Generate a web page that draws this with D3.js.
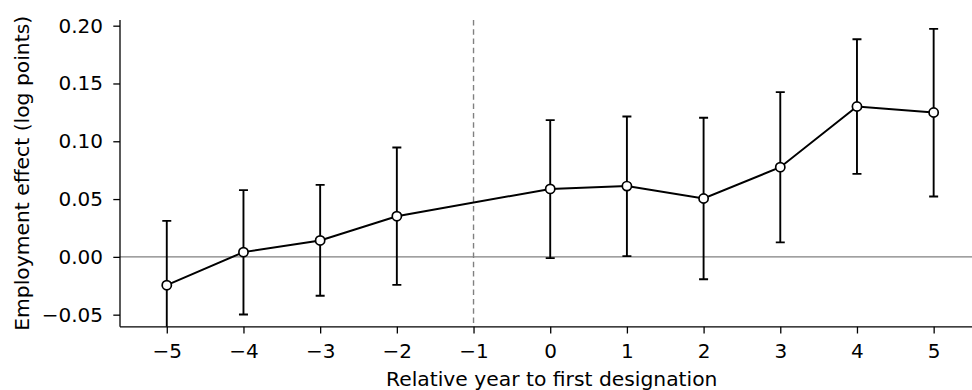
<!DOCTYPE html>
<html>
<head>
<meta charset="utf-8">
<script src="https://cdn.jsdelivr.net/npm/d3@7"></script>
<style>
  html, body { margin: 0; padding: 0; background: #fff; }
  svg text { font-family: "DejaVu Sans", sans-serif; }
</style>
</head>
<body>
<svg id="chart" width="972" height="390"></svg>
<script>
// event-study estimates (reference year -1 omitted)
const years    = [-5, -4, -3, -2, 0, 1, 2, 3, 4, 5];
const estimate = [-0.0245, 0.0041, 0.0142, 0.0352, 0.0588, 0.0612, 0.0505, 0.0776, 0.1301, 0.1249];
const ciLow    = [-0.0800, -0.0498, -0.0337, -0.0242, -0.0011, 0.0006, -0.0193, 0.0125, 0.0718, 0.0522];
const ciHigh   = [0.0311, 0.0577, 0.0623, 0.0946, 0.1183, 0.1214, 0.1203, 0.1425, 0.1883, 0.1972];
const xTicks   = [-5, -4, -3, -2, -1, 0, 1, 2, 3, 4, 5];
const yTicks   = [-0.05, 0.00, 0.05, 0.10, 0.15, 0.20];
const refYear  = -1;

const svg = d3.select("#chart");
const tickFont = 20;
const labelFont = 20.3;

// axes box runs a bit past the right edge of the picture
const x = d3.scaleLinear().domain([-5.61, 5.65]).range([120, 983.5]);
const y = d3.scaleLinear().domain([-0.0605, 0.205]).range([326.8, 19.9]);

const rows = years.map((yr, i) => ({yr: yr, est: estimate[i], lo: ciLow[i], hi: ciHigh[i]}));

// clip region for data
svg.append("defs").append("clipPath").attr("id", "plotclip")
    .append("rect")
    .attr("x", x.range()[0]).attr("y", y.range()[1])
    .attr("width", x.range()[1] - x.range()[0])
    .attr("height", y.range()[0] - y.range()[1]);

const plot = svg.append("g").attr("clip-path", "url(#plotclip)");

// zero line
plot.append("line")
    .attr("x1", x.range()[0]).attr("x2", x.range()[1])
    .attr("y1", y(0)).attr("y2", y(0))
    .attr("stroke", "#808080").attr("stroke-width", 1.4);

// reference year
plot.append("line")
    .attr("x1", x(refYear)).attr("x2", x(refYear))
    .attr("y1", y.range()[1]).attr("y2", y.range()[0])
    .attr("stroke", "#808080").attr("stroke-width", 1.4)
    .attr("stroke-dasharray", "5.5,3.8");

// error bars
const eb = plot.append("g").attr("stroke", "#000").attr("stroke-width", 1.9);
eb.selectAll("line.bar")
    .data(rows).enter().append("line")
    .attr("class", "bar")
    .attr("x1", d => x(d.yr)).attr("x2", d => x(d.yr))
    .attr("y1", d => y(d.lo)).attr("y2", d => y(d.hi));
eb.selectAll("line.caphi")
    .data(rows).enter().append("line")
    .attr("class", "caphi")
    .attr("x1", d => x(d.yr) - 4.5).attr("x2", d => x(d.yr) + 4.5)
    .attr("y1", d => y(d.hi)).attr("y2", d => y(d.hi));
eb.selectAll("line.caplo")
    .data(rows).enter().append("line")
    .attr("class", "caplo")
    .attr("x1", d => x(d.yr) - 4.5).attr("x2", d => x(d.yr) + 4.5)
    .attr("y1", d => y(d.lo)).attr("y2", d => y(d.lo));

// estimate line
plot.append("path")
    .datum(rows)
    .attr("fill", "none")
    .attr("stroke", "#000")
    .attr("stroke-width", 2)
    .attr("d", d3.line().x(d => x(d.yr)).y(d => y(d.est)));

// markers
plot.selectAll("circle")
    .data(rows).enter().append("circle")
    .attr("cx", d => x(d.yr)).attr("cy", d => y(d.est))
    .attr("r", 4.6)
    .attr("fill", "#fff").attr("stroke", "#000").attr("stroke-width", 1.7);

// axes
const xAxis = svg.append("g")
    .attr("transform", "translate(0," + y.range()[0] + ")")
    .call(d3.axisBottom(x).tickValues(xTicks).tickSize(6.7).tickPadding(10.3)
        .tickFormat(d => d3.format("d")(d).replace("-", "\u2212")));
const yAxis = svg.append("g")
    .attr("transform", "translate(" + x.range()[0] + ",0)")
    .call(d3.axisLeft(y).tickValues(yTicks).tickSize(6.7).tickPadding(10.3)
        .tickFormat(d => d3.format(".2f")(d).replace("-", "\u2212")));

[xAxis, yAxis].forEach(g => {
    g.attr("font-size", null).attr("font-family", null);
    g.select(".domain").attr("stroke", "#000").attr("stroke-width", 1.3);
    g.selectAll(".tick line").attr("stroke", "#000").attr("stroke-width", 1.3);
    g.selectAll(".tick text")
        .attr("fill", "#000")
        .style("font-family", "'DejaVu Sans', sans-serif")
        .style("font-size", tickFont + "px");
});
// no outer tick ends on the spines
xAxis.select(".domain").attr("d", "M" + x.range()[0] + ",0H" + x.range()[1]);
yAxis.select(".domain").attr("d", "M0," + y.range()[0] + "V" + y.range()[1]);

// axis labels
svg.append("text")
    .attr("x", (x.range()[0] + x.range()[1]) / 2)
    .attr("y", 386)
    .attr("text-anchor", "middle")
    .style("font-size", labelFont + "px")
    .text("Relative year to first designation");

svg.append("text")
    .attr("transform", "translate(28.5," + ((y.range()[0] + y.range()[1]) / 2) + ") rotate(-90)")
    .attr("text-anchor", "middle")
    .style("font-size", labelFont + "px")
    .text("Employment effect (log points)");
</script>
</body>
</html>
